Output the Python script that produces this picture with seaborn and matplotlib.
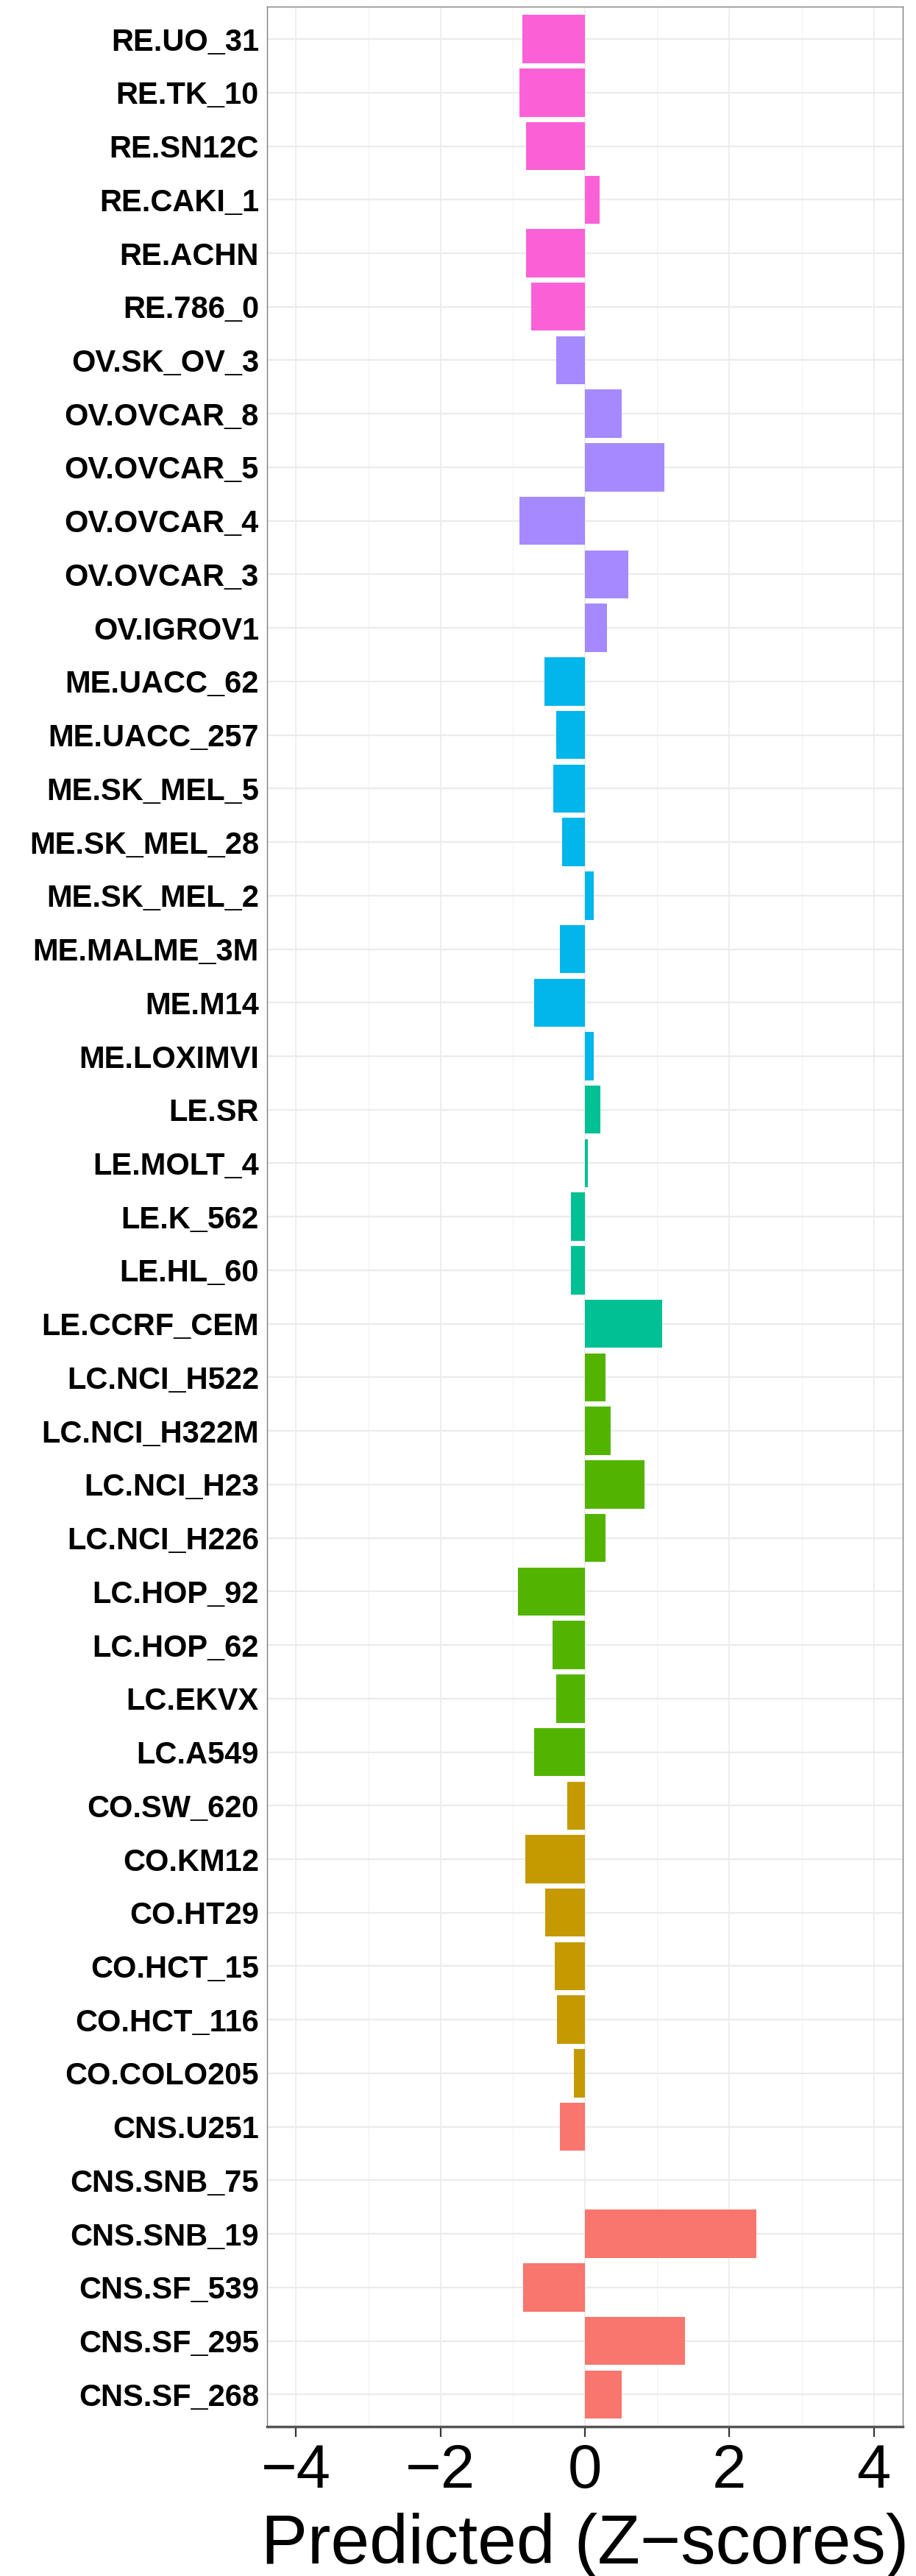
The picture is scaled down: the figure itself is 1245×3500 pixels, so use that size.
import pandas as pd
import seaborn as sns
import matplotlib.pyplot as plt
from matplotlib.ticker import MultipleLocator
from matplotlib import font_manager

# data, top to bottom as in the chart
cell_lines = [
    "RE.UO_31", "RE.TK_10", "RE.SN12C", "RE.CAKI_1", "RE.ACHN", "RE.786_0",
    "OV.SK_OV_3", "OV.OVCAR_8", "OV.OVCAR_5", "OV.OVCAR_4", "OV.OVCAR_3", "OV.IGROV1",
    "ME.UACC_62", "ME.UACC_257", "ME.SK_MEL_5", "ME.SK_MEL_28", "ME.SK_MEL_2",
    "ME.MALME_3M", "ME.M14", "ME.LOXIMVI",
    "LE.SR", "LE.MOLT_4", "LE.K_562", "LE.HL_60", "LE.CCRF_CEM",
    "LC.NCI_H522", "LC.NCI_H322M", "LC.NCI_H23", "LC.NCI_H226", "LC.HOP_92",
    "LC.HOP_62", "LC.EKVX", "LC.A549",
    "CO.SW_620", "CO.KM12", "CO.HT29", "CO.HCT_15", "CO.HCT_116", "CO.COLO205",
    "CNS.U251", "CNS.SNB_75", "CNS.SNB_19", "CNS.SF_539", "CNS.SF_295", "CNS.SF_268",
]
zscores = [
    -0.87, -0.91, -0.82, 0.20, -0.82, -0.74,
    -0.40, 0.51, 1.10, -0.91, 0.60, 0.30,
    -0.56, -0.40, -0.44, -0.32, 0.12,
    -0.35, -0.70, 0.12,
    0.21, 0.04, -0.19, -0.19, 1.07,
    0.28, 0.36, 0.82, 0.28, -0.93,
    -0.45, -0.40, -0.70,
    -0.25, -0.83, -0.55, -0.42, -0.39, -0.15,
    -0.35, 0.0, 2.37, -0.86, 1.38, 0.51,
]
tissue_colors = {
    "CNS": "#F8766D", "CO": "#C49A00", "LC": "#53B400", "LE": "#00C094",
    "ME": "#00B6EB", "OV": "#A58AFF", "RE": "#FB61D7",
}

df = pd.DataFrame({"cell": cell_lines, "z": zscores})
df["tissue"] = df["cell"].str.split(".").str[0]

installed = {f.name for f in font_manager.fontManager.ttflist}
fam = "Liberation Sans Narrow" if "Liberation Sans Narrow" in installed else "Liberation Sans"
plt.rcParams["font.family"] = [fam, "DejaVu Sans"]

fig = plt.figure(figsize=(12.45, 35), dpi=100)
ax = fig.add_axes([0.2916, 0.058, 0.694, 0.9393])

sns.barplot(data=df, x="z", y="cell", hue="tissue", palette=tissue_colors,
            dodge=False, width=0.9, legend=False, linewidth=0, saturation=1,
            ax=ax)

ax.set_xlim(-4.4, 4.4)
ax.set_ylim(len(cell_lines) - 0.4, -0.6)
ax.xaxis.set_minor_locator(MultipleLocator(1))
ax.set_xticks([-4, -2, 0, 2, 4])
ax.set_xticklabels(["\u22124", "\u22122", "0", "2", "4"])

ax.set_axisbelow(True)
ax.grid(axis="x", which="major", color="#EBEBEB", linewidth=1.2)
ax.grid(axis="x", which="minor", color="#F2F2F2", linewidth=0.8)
ax.grid(axis="y", which="major", color="#EBEBEB", linewidth=1.6)

ax.tick_params(axis="y", length=0, pad=8, labelsize=30)
ax.tick_params(axis="x", which="major", length=10, width=1.6, direction="out",
               labelsize=60, pad=6, color="#333333")
ax.tick_params(axis="x", which="minor", length=0)
for lab in ax.get_yticklabels():
    lab.set_fontweight("bold")

for side in ["top", "right", "left"]:
    ax.spines[side].set_color("#7F7F7F")
    ax.spines[side].set_linewidth(1.0)
ax.spines["bottom"].set_color("#555555")
ax.spines["bottom"].set_linewidth(2.5)

ax.set_ylabel("")
ax.set_xlabel("Predicted (Z\u2212scores)", fontsize=68, labelpad=12)

fig.savefig("out.png", dpi=100)
